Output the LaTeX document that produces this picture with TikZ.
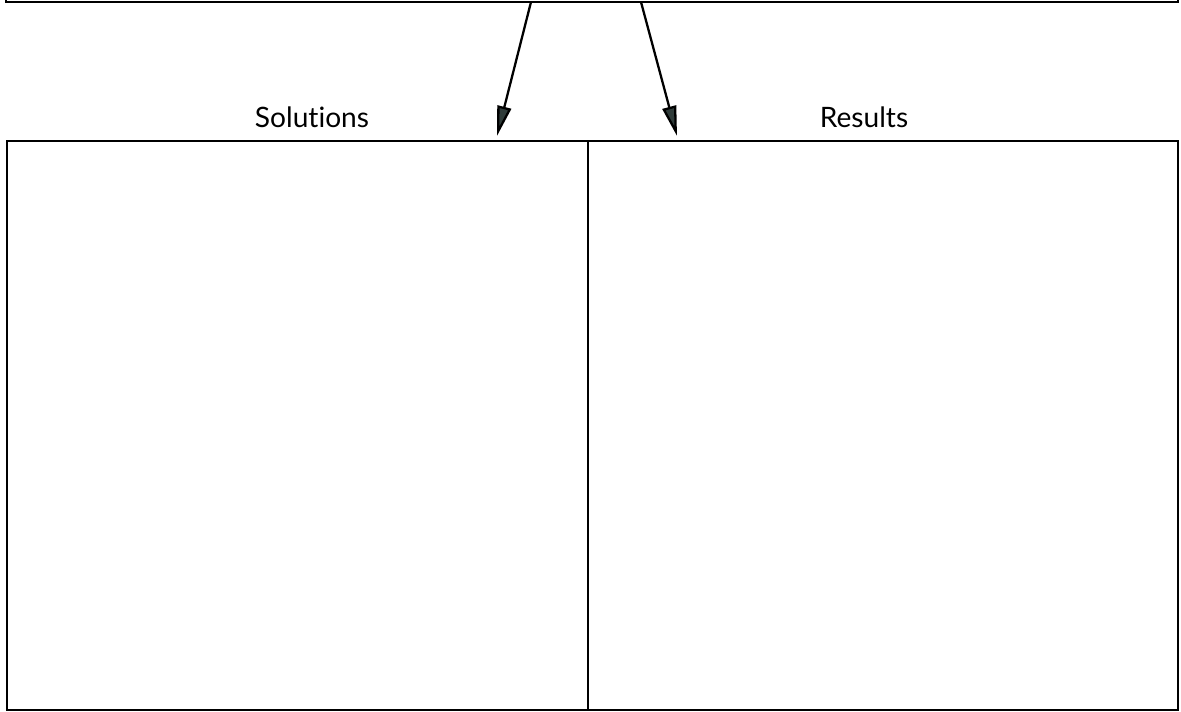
\documentclass[tikz,border=0pt]{standalone}
\usepackage{fontspec}
\setmainfont{Lato}[Ligatures=NoCommon]
\usetikzlibrary{arrows.meta}
\definecolor{tipgray}{RGB}{48,60,58}
\begin{document}
\begin{tikzpicture}[x=0.02cm, y=-0.02cm, line width=1.4pt,
        lbl/.style={font=\fontsize{16}{18}\selectfont, anchor=base},
        feed/.style={-{Triangle[length=0.6cm, width=0.28cm, fill=tipgray]}, line width=1.3pt}]
    \useasboundingbox (0, 0) rectangle (1181, 712);
    \clip (0, 0) rectangle (1181, 712);

    \coordinate (TL) at (6, -40);
    \coordinate (TR) at (1178, -40);
    \coordinate (BL) at (6, 2);
    \coordinate (BR) at (1178, 2);
    \coordinate (S1) at (531, 2);
    \coordinate (S2) at (641, 2);
    \coordinate (E1) at (497, 136);
    \coordinate (E2) at (677, 136);

    \coordinate (A) at (7, 141);
    \coordinate (M) at (588, 141);
    \coordinate (B) at (1178, 710);
    \coordinate (N) at (588, 710);

    \node[lbl] (sol) at (312, 128) {Solutions};
    \node[lbl] (res) at (864, 128) {Results};

    \draw (TL) -- (BL) -- (BR) -- (TR);
    \draw (A) rectangle (N);
    \draw (M) rectangle (B);

    \draw[feed] (S1) -- (E1);
    \draw[feed] (S2) -- (E2);
\end{tikzpicture}
\end{document}
